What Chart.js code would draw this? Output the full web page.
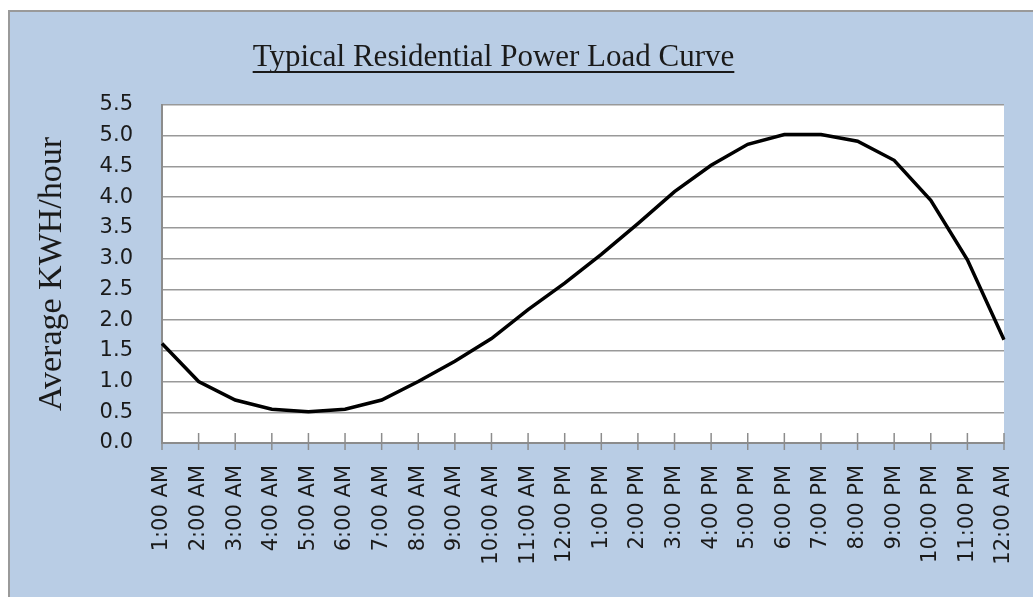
<!DOCTYPE html>
<html>
<head>
<meta charset="utf-8">
<script src="https://cdn.jsdelivr.net/npm/chart.js@4.4.0/dist/chart.umd.min.js"></script>
<style>
  html, body { margin: 0; padding: 0; background: #ffffff; overflow: hidden; }
  #frame {
    position: absolute; left: 8px; top: 10px;
    width: 1023px; height: 585px;
    border-left: 2px solid #9a9a9a; border-top: 2px solid #9a9a9a;
    background: #b9cde5;
  }
  #loadChart { display: block; }
</style>
</head>
<body>
<div id="frame"><canvas id="loadChart" width="1023" height="585"></canvas></div>
<script>
const hours = ['1:00 AM', '2:00 AM', '3:00 AM', '4:00 AM', '5:00 AM', '6:00 AM',
               '7:00 AM', '8:00 AM', '9:00 AM', '10:00 AM', '11:00 AM', '12:00 PM',
               '1:00 PM', '2:00 PM', '3:00 PM', '4:00 PM', '5:00 PM', '6:00 PM',
               '7:00 PM', '8:00 PM', '9:00 PM', '10:00 PM', '11:00 PM', '12:00 AM'];
const avgKwh = [1.62, 1.00, 0.70, 0.55, 0.51, 0.55, 0.70, 1.00, 1.33, 1.70, 2.17, 2.60,
                3.07, 3.57, 4.09, 4.52, 4.86, 5.02, 5.02, 4.91, 4.60, 3.95, 2.98, 1.68];
const chartTitle = 'Typical Residential Power Load Curve';
const yTitle = 'Average KWH/hour';

// fundo azul e area do grafico branca
const backdrop = {
    id: 'backdrop',
    beforeDraw(chart) {
        const { ctx, chartArea: a } = chart;
        ctx.save();
        ctx.fillStyle = '#b9cde5';
        ctx.fillRect(0, 0, chart.width, chart.height);
        ctx.fillStyle = '#ffffff';
        ctx.fillRect(a.left, a.top, a.right - a.left, a.bottom - a.top);
        ctx.restore();
    },
    // marcas do eixo x cruzando o eixo
    beforeDatasetsDraw(chart) {
        const { ctx, chartArea: a } = chart;
        const xs = chart.scales.x;
        ctx.save();
        ctx.strokeStyle = '#8c8c8c';
        ctx.lineWidth = 1.5;
        xs.ticks.forEach((t, i) => {
            const px = xs.getPixelForTick(i);
            ctx.beginPath();
            ctx.moveTo(px, a.bottom + 7);
            ctx.lineTo(px, a.bottom - 10);
            ctx.stroke();
        });
        ctx.restore();
    },
    // titulo sublinhado
    afterDraw(chart) {
        const ctx = chart.ctx;
        ctx.save();
        ctx.font = '31px "Liberation Serif"';
        ctx.fillStyle = '#1a1a1a';
        ctx.textAlign = 'center';
        ctx.textBaseline = 'alphabetic';
        const cx = 483.5, by = 54;
        ctx.fillText(chartTitle, cx, by);
        const w = ctx.measureText(chartTitle).width;
        ctx.strokeStyle = '#1a1a1a';
        ctx.lineWidth = 2;
        ctx.beginPath();
        ctx.moveTo(cx - w / 2, by + 6);
        ctx.lineTo(cx + w / 2, by + 6);
        ctx.stroke();
        ctx.restore();
    }
};

document.addEventListener('DOMContentLoaded', function() {
    new Chart(document.getElementById('loadChart'), {
        type: 'line',
        data: {
            labels: hours,
            datasets: [{
                label: 'Average KWH/hour',
                data: avgKwh,
                borderColor: '#000000',
                borderWidth: 3.5,
                pointRadius: 0,
                tension: 0,
                fill: false
            }]
        },
        options: {
            responsive: false,
            animation: false,
            layout: { padding: { top: 93, right: 29, bottom: 0, left: 0 } },
            plugins: {
                legend: { display: false },
                tooltip: { enabled: false }
            },
            scales: {
                x: {
                    offset: false,
                    grid: { drawOnChartArea: false, drawTicks: true, tickLength: 22, color: 'rgba(0,0,0,0)' },
                    border: { display: true, color: '#8c8c8c', width: 2 },
                    ticks: {
                        minRotation: 90, maxRotation: 90, autoSkip: false, padding: 0,
                        color: '#1a1a1a', font: { family: 'DejaVu Sans', size: 21 }
                    },
                    afterFit(scale) { scale.height = 154; }
                },
                y: {
                    min: 0, max: 5.5,
                    grid: { color: '#999999', lineWidth: 1.5, drawTicks: false },
                    border: { display: true, color: '#8c8c8c', width: 2 },
                    ticks: {
                        stepSize: 0.5, padding: 29,
                        color: '#1a1a1a', font: { family: 'DejaVu Sans', size: 21 },
                        callback: v => v.toFixed(1)
                    },
                    title: {
                        display: true, text: yTitle, color: '#1a1a1a',
                        font: { family: 'Liberation Serif', size: 34 },
                        padding: { top: 22, bottom: 0 }
                    },
                    afterFit(scale) { scale.width = 152; }
                }
            }
        },
        plugins: [backdrop]
    });
});
</script>
</body>
</html>
